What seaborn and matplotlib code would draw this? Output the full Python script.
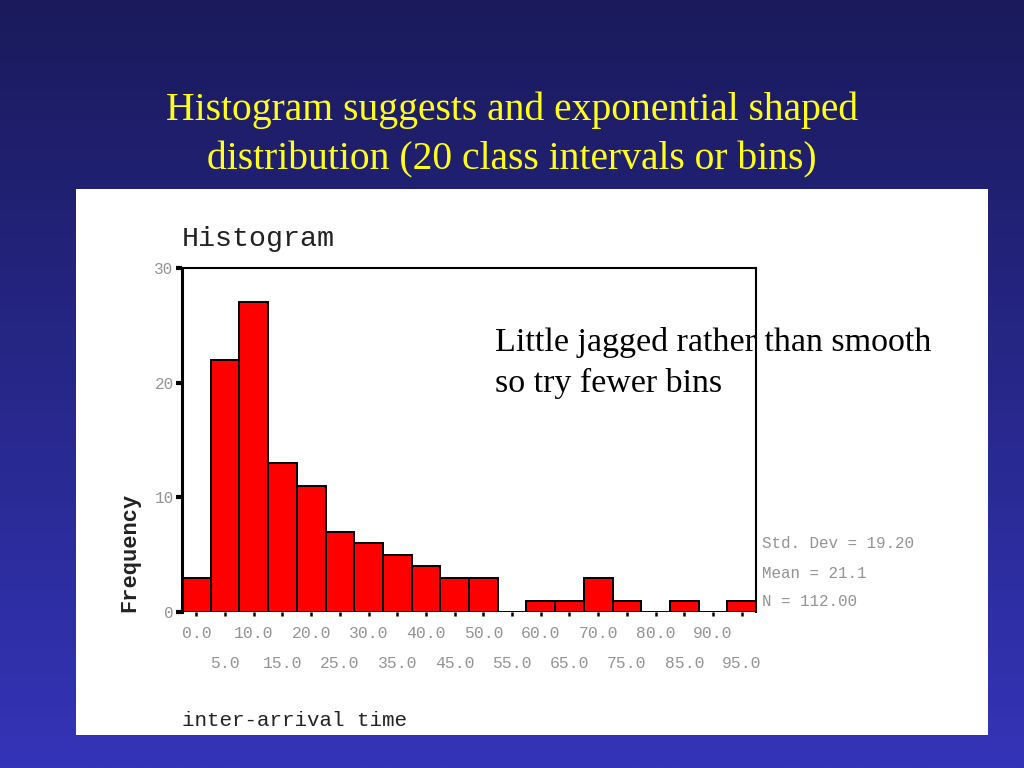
"""SPSS-style histogram of inter-arrival times on a blue slide."""

import numpy as np
import pandas as pd
import matplotlib
matplotlib.use("Agg")
import matplotlib.pyplot as plt
from matplotlib.patches import Rectangle
import seaborn as sns

# bin midpoints (width 5) and the frequency
bin_centers = [0, 5, 10, 15, 20, 25, 30, 35, 40, 45,
               50, 55, 60, 65, 70, 75, 80, 85, 90, 95]
frequencies = [3, 22, 27, 13, 11, 7, 6, 5, 4, 3,
               3, 0, 1, 1, 3, 1, 0, 1, 0, 1]
major_labels = ["0.0", "10.0", "20.0", "30.0", "40.0",
                "50.0", "60.0", "70.0", "80.0", "90.0"]
minor_labels = ["5.0", "15.0", "25.0", "35.0", "45.0",
                "55.0", "65.0", "75.0", "85.0", "95.0"]
y_ticks = [0, 10, 20, 30]
stats_lines = ["Std. Dev = 19.20", "Mean = 21.1", "N = 112.00"]

title = "Histogram suggests and exponential shaped\ndistribution (20 class intervals or bins)"
note = "Little jagged rather than smooth\nso try fewer bins"

MONO = ["Liberation Mono", "DejaVu Sans Mono"]
SERIF = ["Liberation Serif", "DejaVu Serif"]
GREY = "#939393"

sns.set_style("white")

fig = plt.figure(figsize=(10.24, 7.68), dpi=100)

# slide background: vertical blue gradient
bg = fig.add_axes([0, 0, 1, 1], zorder=-10)
grad = np.linspace(0, 1, 256)[:, None]
top_rgb = np.array([26, 26, 92]) / 255
bot_rgb = np.array([52, 52, 184]) / 255
img = top_rgb[None, None, :] * (1 - grad[..., None]) + bot_rgb[None, None, :] * grad[..., None]
bg.imshow(img, aspect="auto", extent=[0, 1, 0, 1])
bg.set_axis_off()

# white chart panel
fig.patches.append(Rectangle((76 / 1024, 1 - 735 / 768), (988 - 76) / 1024, (735 - 189) / 768,
                             transform=fig.transFigure, facecolor="white",
                             edgecolor="none", zorder=-5))

fig.text(0.5, 1 - 135 / 768, title, ha="center", va="center", color="#ffff1a",
         family=SERIF, fontsize=28.5, linespacing=1.42)

ax = fig.add_axes([182 / 1024, 1 - 612 / 768, (756 - 182) / 1024, (612 - 268) / 768])
ax.set_facecolor("white")

df = pd.DataFrame({"time": bin_centers, "freq": frequencies})
edges = [c - 2.5 for c in bin_centers] + [bin_centers[-1] + 2.5]
sns.histplot(data=df, x="time", weights="freq", bins=edges, color="#ff0000",
             edgecolor="black", linewidth=1.4, alpha=1, ax=ax)

ax.set_xlim(-2.5, 97.5)
ax.set_ylim(0, 30)
ax.set_xlabel("")
ax.set_ylabel("")

ax.set_xticks(bin_centers[0::2])
ax.set_xticklabels(major_labels)
ax.set_xticks(bin_centers[1::2], minor=True)
ax.set_xticklabels(minor_labels, minor=True)
ax.tick_params(axis="x", which="both", direction="out", length=3, width=1.8,
               color="black", labelcolor=GREY, labelsize=11.8, bottom=True)
ax.tick_params(axis="x", which="major", pad=7)
ax.tick_params(axis="x", which="minor", pad=28.5)
for lab in ax.get_xticklabels(which="both"):
    lab.set_family(MONO)

ax.set_yticks(y_ticks)
ax.tick_params(axis="y", direction="out", length=4.5, width=3, color="black",
               labelcolor=GREY, labelsize=11.5, pad=1.5, left=True)
for lab in ax.get_yticklabels():
    lab.set_family(MONO)

ax.spines["bottom"].set_visible(False)
ax.spines["left"].set_linewidth(2.2)
ax.spines["top"].set_linewidth(1.5)
ax.spines["right"].set_linewidth(1.5)
for s in ["left", "top", "right"]:
    ax.spines[s].set_color("black")

fig.text(182 / 1024, 1 - 239 / 768, "Histogram", ha="left", va="center",
         family=MONO, fontsize=20.4, color="#222222")
fig.text(130 / 1024, 1 - 552 / 768, "Frequency", ha="center", va="center",
         rotation=90, family=MONO, fontsize=15.8, fontweight="bold", color="#222222")
fig.text(182 / 1024, 1 - 720 / 768, "inter-arrival time", ha="left", va="center",
         family=MONO, fontsize=15, color="#222222")

for i, line in enumerate(stats_lines):
    fig.text(762 / 1024, 1 - (544 + 29 * i) / 768, line, ha="left", va="center",
             family=MONO, fontsize=11.4, color=GREY)

fig.text(495 / 1024, 1 - 363 / 768, note, ha="left", va="center",
         family=SERIF, fontsize=24.5, color="black", linespacing=1.4)

fig.savefig("out.png", dpi=100)
